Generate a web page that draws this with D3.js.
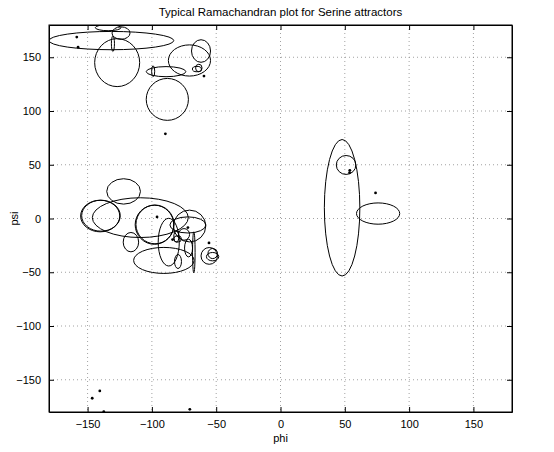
<!DOCTYPE html>
<html>
<head>
<meta charset="utf-8">
<script src="https://cdn.jsdelivr.net/npm/d3@7"></script>
<style>
  body { margin: 0; background: #fff; }
  svg text { font-family: "Liberation Sans", Arial, sans-serif; font-size: 11px; fill: #000; }
</style>
</head>
<body>
<svg id="chart" width="554" height="452"></svg>
<script>
'use strict';

// attractor spreads: [phi, psi, radius in phi, radius in psi]
var ellipses = [
  [-131.5, 165.5, 48.5, 8.5],
  [-134, 177.5, 10, 2.8],
  [-124, 172.5, 7, 5.8],
  [-127, 145, 17.5, 22.3],
  [-130.3, 162.6, 1.2, 7.3],
  [-89, 136.6, 15.4, 4.7],
  [-99, 137, 1.2, 5],
  [-70.8, 147, 16.4, 14.5],
  [-61.8, 155.8, 7.4, 10.5],
  [-65, 139, 3.5, 2.5],
  [-63.5, 140, 2.5, 3.5],
  [-88, 110.8, 16.4, 19.5],
  [-122, 25.2, 13.1, 11.8],
  [-109, 0.8, 37.3, 18.5],
  [-140.2, 2.3, 15.2, 14.7],
  [-139.6, 2.6, 15, 14.4],
  [-116.3, -22, 6, 9],
  [-98, -5.8, 15, 18.2],
  [-97.6, -5.5, 14.8, 18],
  [-70.7, -7, 12.6, 14.8],
  [-72, -6, 14, 7.5],
  [-86.9, -22, 8.2, 22.2],
  [-79.7, -40, 2.7, 6.5],
  [-75, -14.8, 4.3, 5.4],
  [-71.5, -27.5, 3.1, 8.2],
  [-67.4, -31.5, 1, 19.1],
  [-90.7, -39, 23.5, 12.1],
  [-81, -17, 2, 5],
  [-80, -19, 3, 3],
  [-55.4, -34.8, 6.4, 7.8],
  [-52.8, -35.5, 4.8, 3.9],
  [-52.7, -32.6, 3.7, 4.7],
  [47.9, 10, 13.8, 63.5],
  [51, 49.8, 7.6, 8.8],
  [75.9, 4.6, 16.8, 9.9]
];

// attractor positions: [phi, psi]
var points = [
  [-158.4, 168.8], [-157.4, 159.4], [-59.5, 132.5], [-89.5, 78.8],
  [-96, 1.5], [-72, -8.4], [-83.9, -19.6], [-55.6, -22.7],
  [53.9, 44.8], [53.7, 42.6], [73.9, 23.8],
  [-140.5, -160.4], [-146.4, -167.2], [-70.5, -177.5], [-137.4, -179.6]
];

var tickValues = [-150, -100, -50, 0, 50, 100, 150];

var margin = { left: 49, top: 25, right: 42, bottom: 40 };
var width = 554 - margin.left - margin.right;
var height = 452 - margin.top - margin.bottom;

var x = d3.scaleLinear().domain([-180, 180]).range([0, width]);
var y = d3.scaleLinear().domain([-180, 180]).range([height, 0]);

var svg = d3.select('#chart');

var canvas = svg.append('g')
    .attr('transform', 'translate(' + margin.left + ',' + margin.top + ')');

canvas.append('clipPath')
    .attr('id', 'plot-clip')
  .append('rect')
    .attr('width', width)
    .attr('height', height);

//dotted grid
var gridGroup = canvas.append('g')
    .attr('stroke', '#8a8a8a')
    .attr('stroke-width', 0.8)
    .attr('stroke-dasharray', '1,3');

gridGroup.selectAll('.gx')
    .data(tickValues)
    .enter()
    .append('line')
    .attr('x1', function(d) { return x(d); })
    .attr('x2', function(d) { return x(d); })
    .attr('y1', 0)
    .attr('y2', height);

gridGroup.selectAll('.gy')
    .data(tickValues)
    .enter()
    .append('line')
    .attr('x1', 0)
    .attr('x2', width)
    .attr('y1', function(d) { return y(d); })
    .attr('y2', function(d) { return y(d); });

//ellipses
var ellipseGroup = canvas.append('g')
    .attr('clip-path', 'url(#plot-clip)');

ellipseGroup.selectAll('ellipse')
    .data(ellipses)
    .enter()
    .append('ellipse')
    .attr('cx', function(d) { return x(d[0]); })
    .attr('cy', function(d) { return y(d[1]); })
    .attr('rx', function(d) { return x(d[0] + d[2]) - x(d[0]); })
    .attr('ry', function(d) { return y(d[1] - d[3]) - y(d[1]); })
    .attr('fill', 'none')
    .attr('stroke', '#000')
    .attr('stroke-width', 1);

//points
canvas.append('g')
    .attr('clip-path', 'url(#plot-clip)')
    .selectAll('circle')
    .data(points)
    .enter()
    .append('circle')
    .attr('cx', function(d) { return x(d[0]); })
    .attr('cy', function(d) { return y(d[1]); })
    .attr('r', 1.4)
    .attr('fill', '#000');

//axes, ticks inside on all four sides
var fmt = d3.format('d');
var axisBottom = d3.axisBottom(x).tickValues(tickValues).tickSizeInner(-5).tickSizeOuter(0).tickPadding(8).tickFormat(fmt);
var axisLeft = d3.axisLeft(y).tickValues(tickValues).tickSizeInner(-5).tickSizeOuter(0).tickPadding(8).tickFormat(fmt);
var axisTop = d3.axisTop(x).tickValues(tickValues).tickSizeInner(-5).tickSizeOuter(0).tickFormat('');
var axisRight = d3.axisRight(y).tickValues(tickValues).tickSizeInner(-5).tickSizeOuter(0).tickFormat('');

canvas.append('g').attr('class', 'axis').attr('transform', 'translate(0,' + height + ')').call(axisBottom);
canvas.append('g').attr('class', 'axis').call(axisLeft);
canvas.append('g').attr('class', 'axis').call(axisTop);
canvas.append('g').attr('class', 'axis').attr('transform', 'translate(' + width + ',0)').call(axisRight);

canvas.selectAll('.axis path').attr('stroke', '#000');
canvas.selectAll('.axis line').attr('stroke', '#000');
canvas.selectAll('.axis text').style('font-size', '11px').attr('fill', '#000');

//box
canvas.append('rect')
    .attr('width', width)
    .attr('height', height)
    .attr('fill', 'none')
    .attr('stroke', '#000')
    .attr('stroke-width', 1);

//labels
svg.append('text')
    .attr('x', margin.left + width / 2)
    .attr('y', 16)
    .attr('text-anchor', 'middle')
    .style('font-size', '11.5px')
    .text('Typical Ramachandran plot for Serine attractors');

svg.append('text')
    .attr('x', margin.left + width / 2)
    .attr('y', 442)
    .attr('text-anchor', 'middle')
    .text('phi');

svg.append('text')
    .attr('transform', 'translate(18,' + (margin.top + height / 2) + ') rotate(-90)')
    .attr('text-anchor', 'middle')
    .text('psi');
</script>
</body>
</html>
